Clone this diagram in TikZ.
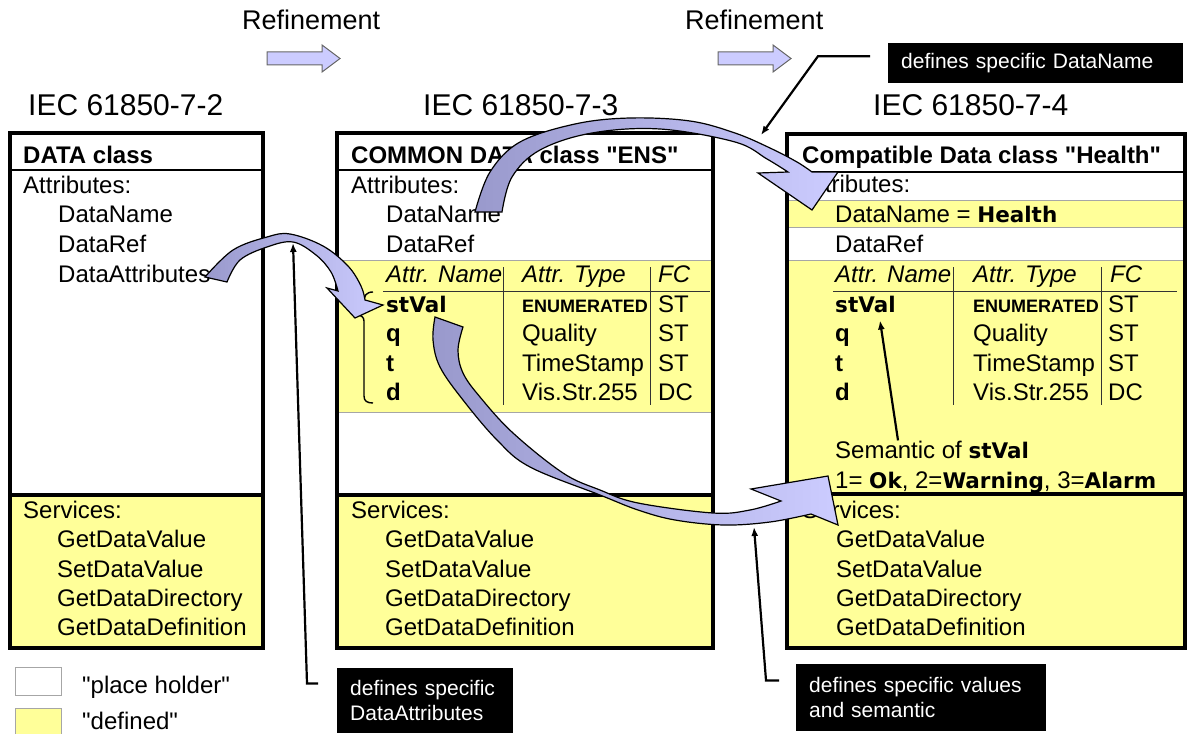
\documentclass[tikz,border=0pt]{standalone}
\usepackage{fontspec}
\setmainfont{Liberation Sans}
\newfontfamily\vfont{DejaVu Sans}
\usetikzlibrary{arrows.meta}

\definecolor{hold}{HTML}{FFFF99}
\definecolor{arrdark}{HTML}{9999CC}
\definecolor{arrlight}{HTML}{CCCCFF}
\newcommand{\vb}[1]{{\vfont\bfseries\fontsize{21.5}{26}\selectfont #1}}
\newcommand{\qt}{\textquotedbl}

\begin{document}
\begin{tikzpicture}[x=1pt,y=-1pt,
  txt/.style={anchor=base west,inner sep=0pt,font=\fontsize{24}{29}\selectfont},
  hdr/.style={txt,font=\fontsize{24}{29}\selectfont\bfseries},
  tblh/.style={txt,font=\fontsize{24}{29}\selectfont\itshape},
  enum/.style={txt,font=\fontsize{18}{22}\selectfont\bfseries},
  ttl/.style={txt,font=\fontsize{30}{36}\selectfont},
  refl/.style={txt,font=\fontsize{27}{32}\selectfont},
  frame/.style={draw,line width=3.2pt},
  band/.style={fill=hold,draw=gray!70,line width=1pt},
  sep/.style={line width=1.3pt},
  tab/.style={draw=black!80,line width=1pt},
  callout/.style={fill=black,text=white,font=\fontsize{21}{25}\selectfont,align=left,anchor=north west,inner xsep=13pt},
  lead/.style={draw,line width=2.2pt,-{Latex[length=9pt,width=7pt]}},
  blockarr/.style={draw=black,line width=1.2pt,left color=arrdark,right color=arrlight},
  refarr/.style={fill=arrlight,draw=black!60,line width=1pt},
  legbox/.style={draw=gray!70,line width=1pt,minimum width=46pt,minimum height=28pt,inner sep=0pt,anchor=north west}
]
  \useasboundingbox (0,0) rectangle (1190,733);

  % headings
  \node[refl] (ref1) at (242,30) {Refinement};
  \node[refl] (ref2) at (685,30) {Refinement};
  \path[refarr] (267,52) -- (322,52) -- (322,45) -- (340,58.5) -- (322,72) -- (322,65) -- (267,65) -- cycle;
  \path[refarr] (718,52) -- (773,52) -- (773,45) -- (791,58.5) -- (773,72) -- (773,65) -- (718,65) -- cycle;
  \node[ttl] (std2) at (28,115) {IEC 61850-7-2};
  \node[ttl] (std3) at (423,115) {IEC 61850-7-3};
  \node[ttl] (std4) at (873,115) {IEC 61850-7-4};

  % DATA class
  \fill[hold] (10,495) rectangle (263,648);
  \draw[sep] (10,170) -- (263,170);
  \draw[line width=3.2pt] (10,495) -- (263,495);
  \draw[frame] (10,133) rectangle (263,648);
  \node[hdr] (dc) at (23,163) {DATA class};
  \node[txt] (at1) at (23,193) {Attributes:};
  \node[txt] (dn1) at (58,222) {DataName};
  \node[txt] (dr1) at (58,252) {DataRef};
  \node[txt] (da1) at (58,282) {DataAttributes};

  % COMMON DATA class
  \fill[hold] (337,495) rectangle (713,648);
  \path[band] (337,260) rectangle (713,412);
  \draw[sep] (337,170) -- (711,170);
  \draw[line width=3.2pt] (337,495) -- (713,495);
  \draw[frame] (337,133) rectangle (713,648);
  \draw[tab] (503,267) -- (503,405) (650,267) -- (650,405) (383,291) -- (710,291);
  \node[hdr] (cdc) at (351,163) {COMMON DATA class \qt ENS\qt};
  \node[txt] (at2) at (351,193) {Attributes:};
  \node[txt] (dn2) at (386,222) {DataName};
  \node[txt] (dr2) at (386,252) {DataRef};
  \node[tblh] (an2) at (386,282) {Attr. Name};
  \node[tblh] (ty2) at (522,282) {Attr. Type};
  \node[tblh] (fc2) at (658,282) {FC};
  \node[txt] (stv2) at (386,312) {\vb{stVal}};
  \node[hdr] (q2) at (386,341) {q};
  \node[hdr] (t2) at (386,371) {t};
  \node[hdr] (d2) at (386,400) {d};
  \node[enum] (en2) at (522,312) {ENUMERATED};
  \node[txt] (ql2) at (522,341) {Quality};
  \node[txt] (ts2) at (522,371) {TimeStamp};
  \node[txt] (vs2) at (522,400) {Vis.Str.255};
  \node[txt] (f12) at (658,312) {ST};
  \node[txt] (f22) at (658,341) {ST};
  \node[txt] (f32) at (658,371) {ST};
  \node[txt] (f42) at (658,400) {DC};
  \draw[line width=1.4pt] (373,292) .. controls (366,292) and (364,296) .. (364,302) -- (364,309)
    .. controls (364,313) and (361,315) .. (357,315) .. controls (361,315) and (364,317) .. (364,321)
    -- (364,396) .. controls (364,401) and (367,403) .. (373,403);

  % Compatible Data class
  \path[band] (787,200) rectangle (1185,227);
  \path[band] (787,260) rectangle (1185,648);
  \draw[sep] (787,172) -- (1183,172);
  \draw[line width=3.2pt] (787,494) -- (1185,494);
  \draw[frame] (787,134) rectangle (1185,648);
  \draw[tab] (953,267) -- (953,405) (1101,267) -- (1101,405) (833,291) -- (1177,291);
  \node[hdr] (cpc) at (802,163) {Compatible Data class \qt Health\qt};
  \node[txt] (at3) at (802,192) {Attributes:};
  \node[txt] (dn3) at (835,222) {DataName = \vb{Health}};
  \node[txt] (dr3) at (835,252) {DataRef};
  \node[tblh] (an3) at (835,282) {Attr. Name};
  \node[tblh] (ty3) at (973,282) {Attr. Type};
  \node[tblh] (fc3) at (1110,282) {FC};
  \node[txt] (stv3) at (835,312) {\vb{stVal}};
  \node[hdr] (q3) at (835,341) {q};
  \node[hdr] (t3) at (835,371) {t};
  \node[hdr] (d3) at (835,400) {d};
  \node[enum] (en3) at (973,312) {ENUMERATED};
  \node[txt] (ql3) at (973,341) {Quality};
  \node[txt] (ts3) at (973,371) {TimeStamp};
  \node[txt] (vs3) at (973,400) {Vis.Str.255};
  \node[txt] (f13) at (1108,312) {ST};
  \node[txt] (f23) at (1108,341) {ST};
  \node[txt] (f33) at (1108,371) {ST};
  \node[txt] (f43) at (1108,400) {DC};
  \node[txt] (sem) at (835,458) {Semantic of \vb{stVal}};
  \node[txt] (val) at (835,488) {1= \vb{Ok}, 2=\vb{Warning}, 3=\vb{Alarm}};

  % services, same in all three classes
  \foreach \bx/\nm in {23/a,351/b,802/c}{
    \node[txt] (sv\nm) at (\bx,518) {Services:};
    \node[txt] (gv\nm) at (\bx+34,547) {GetDataValue};
    \node[txt] (st\nm) at (\bx+34,577) {SetDataValue};
    \node[txt] (gd\nm) at (\bx+34,606) {GetDataDirectory};
    \node[txt] (gf\nm) at (\bx+34,635) {GetDataDefinition};
  }

  % refinement arrows
  \path[blockarr] plot[smooth,tension=0.6] coordinates {(205,277) (233,250) (267,237) (290,234) (323,246) (348,266) (361,286) (365,300)}
    -- (383,305) -- (355,318) -- (327,288)
    -- plot[smooth,tension=0.6] coordinates {(338,291) (331,272) (316,255) (293,242) (267,247) (240,260) (227,282)} -- cycle;
  \path[blockarr] plot[smooth,tension=0.6] coordinates {(475,212) (490,172) (520,142) (575,124) (630,118) (690,121) (735,133) (770,148) (797,162) (812,172)}
    -- (838,172) -- (812,210) -- (758,173)
    -- plot[smooth,tension=0.6] coordinates {(788,172) (767,159) (735,142) (660,129) (592,133) (540,150) (512,177) (502,212)} -- cycle;
  \path[blockarr] plot[smooth,tension=0.6] coordinates {(435,317) (433,340) (440,367) (463,400) (497,440) (530,467) (600,495) (638,510) (675,520) (724,525) (770,522) (811,514)}
    -- (838,525) -- (828,476) -- (751,489)
    -- plot[smooth,tension=0.6] coordinates {(781,501) (750,510) (713,513) (638,503) (600,490) (563,473) (513,433) (480,397) (463,373) (458,350) (463,327)} -- cycle;

  % legend
  \node[legbox] (lgw) at (15,667) {};
  \node[txt] (lgwt) at (82,693) {\qt place holder\qt};
  \node[legbox,fill=hold,minimum height=36pt] (lgy) at (15,708) {};
  \node[txt] (lgyt) at (82,729) {\qt defined\qt};

  % callouts
  \node[callout,text width=269pt,minimum height=40pt,inner ysep=0pt] (cName) at (888,43) {defines specific DataName};
  \node[callout,text width=150pt,inner ysep=12pt] (cAttr) at (337,668) {defines specific\\DataAttributes};
  \node[callout,text width=224pt,inner ysep=13pt] (cVal) at (796,664) {defines specific values\\and semantic};
  \coordinate (tipA) at (293,243);
  \coordinate (tipB) at (761,135);
  \coordinate (tipC) at (754,527);
  \draw[lead] (cName.west) ++(-18,-7) -- ++(-52,0) -- (tipB);
  \draw[lead] (cAttr.west) ++(-19,-17) -- ++(-11,0) -- (tipA);
  \draw[lead] (cVal.west) ++(-17,-17) -- ++(-13,0) -- (tipC);
  \draw[lead] ([xshift=63pt]sem.north west) -- ([xshift=45pt,yshift=-8pt]stv3.south west);
\end{tikzpicture}
\end{document}
